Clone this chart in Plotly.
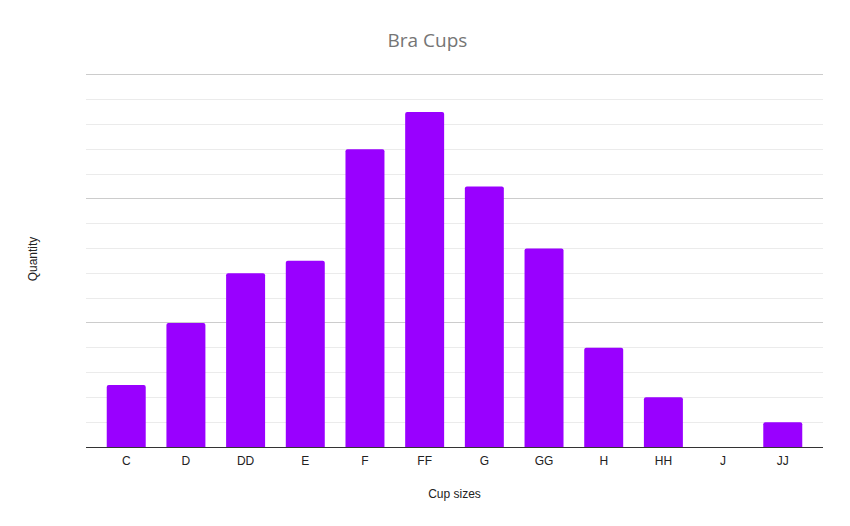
import plotly.graph_objects as go

cups = ["C", "D", "DD", "E", "F", "FF", "G", "GG", "H", "HH", "J", "JJ"]
quantity = [5, 10, 14, 15, 24, 27, 21, 16, 8, 4, 0, 2]

fig = go.Figure(go.Bar(
    x=cups, y=quantity,
    marker=dict(color="#9900ff", line=dict(width=0), cornerradius=2),
))

fig.update_layout(
    width=850, height=526,
    margin=dict(l=78, r=35, t=63, b=87),
    paper_bgcolor="white", plot_bgcolor="white",
    bargap=0.347,
    showlegend=False,
    title=dict(text="Bra Cups", x=0.4935, xanchor="center", y=0.939, yanchor="middle",
               font=dict(family="Open Sans", size=19, color="#757575")),
    font=dict(family="Liberation Sans, Arial", size=12, color="#222222"),
)
fig.update_xaxes(
    range=[-0.674, len(cups) - 1 + 0.674],
    title=dict(text="Cup sizes", font=dict(size=12, color="#222222"), standoff=22),
    showline=True, linecolor="#333333", linewidth=1,
    showgrid=False, ticks="", tickfont=dict(size=12, color="#222222"),
    ticklabelstandoff=3,
)
fig.update_yaxes(
    range=[0, 30.3], dtick=10, showticklabels=False,
    title=dict(text="Quantity", font=dict(size=12, color="#222222"), standoff=44),
    showgrid=True, gridcolor="#cccccc", gridwidth=1,
    zeroline=False,
    minor=dict(dtick=2, showgrid=True, gridcolor="#ebebeb", gridwidth=1),
)

fig.write_html("out.html")
